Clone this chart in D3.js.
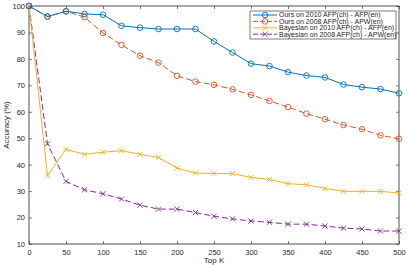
<!DOCTYPE html>
<html>
<head>
<meta charset="utf-8">
<script src="https://cdn.jsdelivr.net/npm/d3@7"></script>
<style>
  body { margin: 0; background: #fff; }
  text { font-family: "Liberation Sans", Arial, sans-serif; fill: #262626; }
</style>
</head>
<body>
<div id="chart"></div>
<script>
// data
var topK = [0, 25, 50, 75, 100, 125, 150, 175, 200, 225, 250, 275, 300, 325, 350, 375, 400, 425, 450, 475, 500];
var ours2010 = [100, 96, 98, 97, 96.7, 92.5, 91.8, 91.3, 91.3, 91.3, 86.6, 82.4, 78.2, 77.3, 75, 73.7, 73, 70.3, 69.3, 68.6, 67];
var ours2008 = [100, 96, 98, 95.8, 89.8, 85.3, 81.2, 78.6, 73.6, 71.4, 70.2, 68.5, 66.4, 64.1, 61.8, 59.3, 57.2, 55, 53.4, 51.1, 49.8];
var bayes2010 = [100, 35.8, 45.8, 43.9, 44.7, 45.3, 43.9, 42.7, 38.7, 36.8, 36.7, 36.6, 35.2, 34.4, 32.8, 32.4, 31, 29.9, 29.9, 29.9, 29.3];
var bayes2008 = [100, 47.9, 33.7, 30.5, 29, 27, 24.7, 23.2, 23.2, 21.9, 20.5, 19.5, 18.7, 18.2, 17.5, 17.5, 16.8, 16, 15.7, 14.9, 14.9];
var seriesNames = ["Ours on 2010 AFP(ch) - AFP(en)", "Ours on 2008 AFP(ch) - APW(en)",
                   "Bayesian on 2010 AFP(ch) - AFP(en)", "Bayesian on 2008 AFP(ch) - APW(en)"];
var xTicks = [0, 50, 100, 150, 200, 250, 300, 350, 400, 450, 500];
var yTicks = [10, 20, 30, 40, 50, 60, 70, 80, 90, 100];

var series = [
    {name: seriesNames[0], values: ours2010, color: "#0072BD", dash: null, marker: "o"},
    {name: seriesNames[1], values: ours2008, color: "#D95319", dash: "6,3", marker: "o"},
    {name: seriesNames[2], values: bayes2010, color: "#EDB120", dash: null, marker: "x"},
    {name: seriesNames[3], values: bayes2008, color: "#7E2F8E", dash: "6,3", marker: "x"}
];

var W = 409, H = 265;
var margin = {top: 6, right: 10, bottom: 21, left: 29},
    width = W - margin.left - margin.right,
    height = H - margin.top - margin.bottom;

var svg = d3.select("#chart").append("svg")
    .attr("width", W)
    .attr("height", H);

var g = svg.append("g")
    .attr("transform", "translate(" + margin.left + "," + margin.top + ")");

var x = d3.scaleLinear().domain([0, 500]).range([0, width]);
var y = d3.scaleLinear().domain([10, 100]).range([height, 0]);

var axisColor = "#262626";
function styleAxis(sel) {
    sel.select(".domain").remove();
    sel.selectAll(".tick line").attr("stroke", axisColor).attr("stroke-width", 0.6);
    sel.selectAll(".tick text").attr("font-size", 7.5).attr("fill", axisColor);
}

// bottom / left with labels, top / right ticks only (box on, ticks inward)
g.append("g")
    .attr("transform", "translate(0," + height + ")")
    .call(d3.axisBottom(x).tickValues(xTicks).tickSizeInner(-3).tickSizeOuter(0).tickPadding(6))
    .call(styleAxis);
g.append("g")
    .call(d3.axisLeft(y).tickValues(yTicks).tickSizeInner(-3).tickSizeOuter(0).tickPadding(4))
    .call(styleAxis);
g.append("g")
    .call(d3.axisTop(x).tickValues(xTicks).tickSizeInner(-3).tickSizeOuter(0).tickFormat(""))
    .call(styleAxis);
g.append("g")
    .attr("transform", "translate(" + width + ",0)")
    .call(d3.axisRight(y).tickValues(yTicks).tickSizeInner(-3).tickSizeOuter(0).tickFormat(""))
    .call(styleAxis);

g.append("rect")
    .attr("width", width)
    .attr("height", height)
    .attr("fill", "none")
    .attr("stroke", axisColor)
    .attr("stroke-width", 0.8);

// axis titles
svg.append("text")
    .attr("x", margin.left + width / 2)
    .attr("y", H - 2)
    .attr("text-anchor", "middle")
    .attr("font-size", 8)
    .text("Top K");
svg.append("text")
    .attr("transform", "translate(9," + (margin.top + height / 2) + ") rotate(-90)")
    .attr("text-anchor", "middle")
    .attr("font-size", 8)
    .text("Accuracy (%)");

var line = d3.line()
    .x(function(d, i) { return x(topK[i]); })
    .y(function(d) { return y(d); });

function drawMarker(sel, type, color, cx, cy) {
    if (type === "o") {
        sel.append("circle")
            .attr("cx", cx).attr("cy", cy).attr("r", 2.8)
            .attr("fill", "none").attr("stroke", color).attr("stroke-width", 0.9);
    } else {
        var s = 2.6;
        sel.append("path")
            .attr("d", "M" + (cx - s) + "," + (cy - s) + "L" + (cx + s) + "," + (cy + s) +
                       "M" + (cx - s) + "," + (cy + s) + "L" + (cx + s) + "," + (cy - s))
            .attr("stroke", color).attr("stroke-width", 0.9).attr("fill", "none");
    }
}

// draw in reverse so blue ends on top
series.slice().reverse().forEach(function(s) {
    var sg = g.append("g");
    sg.append("path")
        .datum(s.values)
        .attr("d", line)
        .attr("fill", "none")
        .attr("stroke", s.color)
        .attr("stroke-width", 1)
        .attr("stroke-dasharray", s.dash);
    s.values.forEach(function(v, i) {
        drawMarker(sg, s.marker, s.color, x(topK[i]), y(v));
    });
});

// legend
var lx = 250, ly = 11, lw = 146, lh = 28;
var legend = svg.append("g");
legend.append("rect")
    .attr("x", lx).attr("y", ly).attr("width", lw).attr("height", lh)
    .attr("fill", "#fff").attr("stroke", axisColor).attr("stroke-width", 0.6);
series.forEach(function(s, i) {
    var yy = ly + 4 + i * 6.4;
    legend.append("line")
        .attr("x1", lx + 3).attr("x2", lx + 27)
        .attr("y1", yy).attr("y2", yy)
        .attr("stroke", s.color).attr("stroke-width", 1)
        .attr("stroke-dasharray", s.dash ? "5,2" : null);
    drawMarker(legend, s.marker, s.color, lx + 15, yy);
    legend.append("text")
        .attr("x", lx + 29)
        .attr("y", yy)
        .attr("dy", "0.35em")
        .attr("font-size", 7)
        .text(s.name);
});
</script>
</body>
</html>
